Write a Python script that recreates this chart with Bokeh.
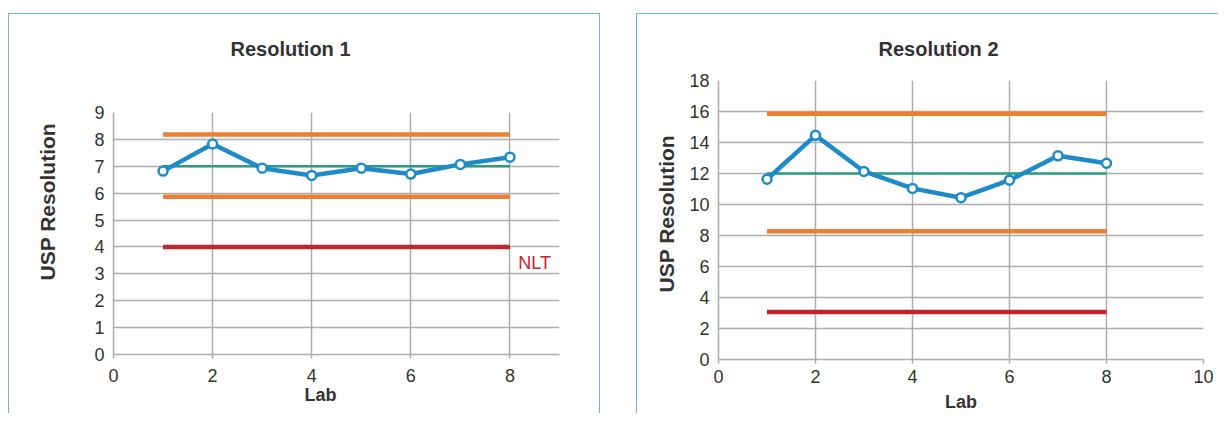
from bokeh.plotting import figure
from bokeh.layouts import row
from bokeh.models import Label, FixedTicker, Range1d, Title, LinearAxis
from bokeh.embed import file_html
from bokeh.resources import INLINE

# ---- data ----
labs = [1, 2, 3, 4, 5, 6, 7, 8]
res1 = [6.82, 7.83, 6.93, 6.66, 6.93, 6.71, 7.07, 7.34]
res2 = [11.63, 14.46, 12.13, 11.04, 10.44, 11.57, 13.14, 12.66]

limit_x = [1, 8]
res1_upper = 8.18
res1_mean = 7.0
res1_lower = 5.87
res1_nlt = 4.0
res2_upper = 15.86
res2_mean = 12.0
res2_lower = 8.27
res2_nlt = 3.06

x_ticks1 = [0, 2, 4, 6, 8]
y_ticks1 = [0, 1, 2, 3, 4, 5, 6, 7, 8, 9]
x_ticks2 = [0, 2, 4, 6, 8, 10]
y_ticks2 = [0, 2, 4, 6, 8, 10, 12, 14, 16, 18]

titles = ["Resolution 1", "Resolution 2"]
y_title = "USP Resolution"
x_title = "Lab"
nlt_text = "NLT"

# ---- styles ----
FONT = "Liberation Sans"
BLUE = "#1E8BC8"
ORANGE = "#EE7F30"
GREEN = "#2A9D80"
RED = "#C0262D"
GRID = "#ADADAD"
BORDER = "#72B3D9"
TEXT = "#333333"


def make_panel(width, height, xr, yr, xt, yt, mb, border_css, xstand):
    p = figure(width=width, height=height, x_range=Range1d(*xr), y_range=Range1d(*yr),
               output_backend="svg", toolbar_location=None,
               min_border_left=mb[0], min_border_right=mb[1],
               min_border_top=mb[2], min_border_bottom=mb[3])
    p.frame_align = False
    p.outline_line_color = None
    p.background_fill_color = "white"
    p.border_fill_color = "white"
    p.xaxis.ticker = FixedTicker(ticks=xt)
    p.yaxis.ticker = FixedTicker(ticks=yt)
    p.xgrid.ticker = FixedTicker(ticks=xt)
    p.ygrid.ticker = FixedTicker(ticks=yt)
    for g in (p.xgrid, p.ygrid):
        g.grid_line_color = GRID
        g.grid_line_width = 1.5
    for ax in (p.xaxis, p.yaxis):
        ax.axis_line_color = GRID
        ax.axis_line_width = 1.5
        ax.major_tick_line_color = GRID
        ax.major_tick_line_width = 1.5
        ax.minor_tick_line_color = None
        ax.major_label_text_font = FONT
        ax.major_label_text_font_size = "18px"
        ax.major_label_text_color = TEXT
    p.xaxis.major_tick_out = 4
    p.xaxis.major_tick_in = 0
    p.yaxis.major_tick_out = 0
    p.yaxis.major_tick_in = 0
    p.yaxis.major_label_standoff = 9
    p.xaxis.major_label_standoff = xstand
    p.styles = border_css
    return p


def add_series(p, ys, up, mean, low, nlt):
    p.line(limit_x, [up, up], line_color=ORANGE, line_width=4.5, line_cap="butt")
    p.line(limit_x, [low, low], line_color=ORANGE, line_width=4.5, line_cap="butt")
    p.line(limit_x, [nlt, nlt], line_color=RED, line_width=4.5, line_cap="butt")
    p.line(limit_x, [mean, mean], line_color=GREEN, line_width=2.5, line_cap="butt")
    p.line(labs, ys, line_color=BLUE, line_width=4.5, line_join="round")
    p.scatter(labs, ys, size=9, marker="circle", fill_color="white",
              line_color=BLUE, line_width=2.5)


def spacer(p, side, gap, anchor):
    # blank axis (white tick on white, empty label) used only to reserve space
    ax = LinearAxis(ticker=FixedTicker(ticks=[anchor]), major_tick_out=gap,
                    major_tick_in=0, minor_tick_out=0, minor_tick_in=0,
                    major_label_standoff=0, major_label_overrides={anchor: ""},
                    axis_line_color=None, major_tick_line_color="white",
                    major_tick_line_width=1, minor_tick_line_color=None)
    p.add_layout(ax, side)


def title(p, side, text, size, offset, standoff, valign="middle"):
    p.add_layout(Title(text=text, text_font=FONT, text_font_size=size,
                       text_font_style="bold", text_color=TEXT, align="left",
                       offset=offset, standoff=standoff, vertical_align=valign), side)


# Panel 1
p1 = make_panel(592, 400, (0, 9), (0, 9), x_ticks1, y_ticks1, (104, 42, 98, 60),
                {"border-top": f"1.5px solid {BORDER}",
                 "border-left": f"1.5px solid {BORDER}",
                 "border-right": f"1.5px solid {BORDER}",
                 "margin-top": "13px", "margin-left": "8px"}, 10)
add_series(p1, res1, res1_upper, res1_mean, res1_lower, res1_nlt)
spacer(p1, "above", 47, 0)
title(p1, "above", titles[0], "20px", 117, 10)
spacer(p1, "left", 27, 0)
title(p1, "left", y_title, "21px", 74, 10)
title(p1, "below", x_title, "18px", 191, 0, valign="top")
p1.add_layout(Label(x=8.17, y=3.39, text=nlt_text, text_font=FONT,
                    text_font_size="18px", text_color=RED, text_align="left",
                    text_baseline="middle"))

# Panel 2
p2 = make_panel(582, 400, (0, 10), (0, 18), x_ticks2, y_ticks2, (81, 16, 66, 55),
                {"border-top": f"1.5px solid {BORDER}",
                 "border-left": f"1.5px solid {BORDER}",
                 "margin-top": "13px"}, 6)
xax2 = p2.below[0]
xax2.axis_label = x_title
xax2.axis_label_text_font = FONT
xax2.axis_label_text_font_style = "bold"
xax2.axis_label_text_font_size = "18px"
xax2.axis_label_text_color = TEXT
xax2.axis_label_standoff = 6
add_series(p2, res2, res2_upper, res2_mean, res2_lower, res2_nlt)
spacer(p2, "above", 17, 0)
title(p2, "above", titles[1], "20px", 160, 6)
title(p2, "left", y_title, "21px", 67, 15)

layout = row(p1, p2, spacing=36)

open("out.html", "w").write(file_html(layout, INLINE))
